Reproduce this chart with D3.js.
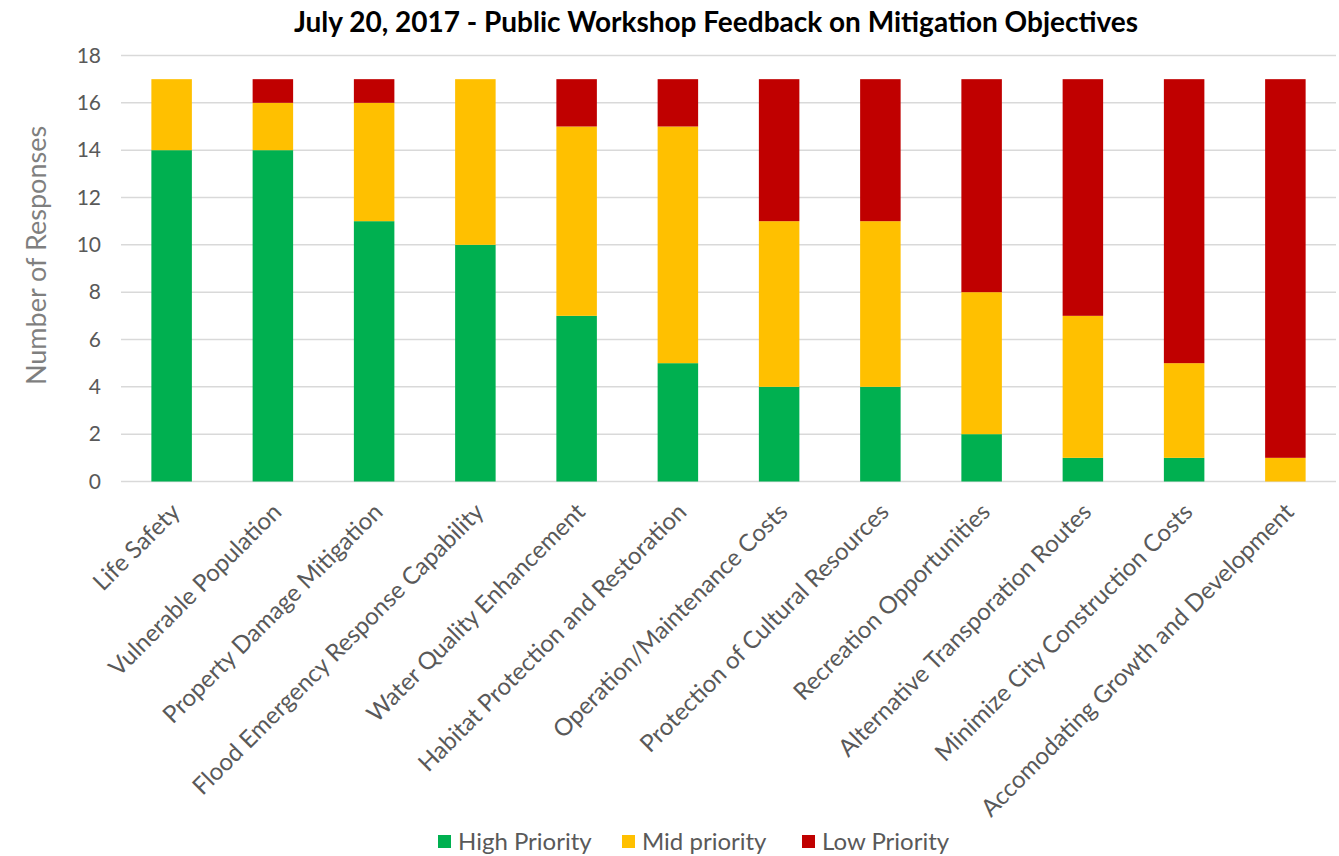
<!DOCTYPE html>
<html>
<head>
<meta charset="utf-8">
<script src="https://cdn.jsdelivr.net/npm/d3@7"></script>
<style>
  body { margin: 0; background: #fff; }
  text { font-family: Lato, "Open Sans", sans-serif; }
</style>
</head>
<body>
<div id="chart"></div>
<script>
var categories = [
  "Life Safety",
  "Vulnerable Population",
  "Property Damage Mitigation",
  "Flood Emergency Response Capability",
  "Water Quality Enhancement",
  "Habitat Protection and Restoration",
  "Operation/Maintenance Costs",
  "Protection of Cultural Resources",
  "Recreation Opportunities",
  "Alternative Transporation Routes",
  "Minimize City Construction Costs",
  "Accomodating Growth and Development"
];
var highPriority = [14, 14, 11, 10, 7, 5, 4, 4, 2, 1, 1, 0];
var midPriority = [3, 2, 5, 7, 8, 10, 7, 7, 6, 6, 4, 1];
var lowPriority = [0, 1, 1, 0, 2, 2, 6, 6, 9, 10, 12, 16];
var seriesNames = ["High Priority", "Mid priority", "Low Priority"];
var seriesColors = ["#00B050", "#FFC000", "#C00000"];
var yTicks = [0, 2, 4, 6, 8, 10, 12, 14, 16, 18];

var svgWidth = 1339;
var svgHeight = 856;
var margin = { top: 55.5, right: 3, bottom: 374.5, left: 121 };
var width = svgWidth - margin.left - margin.right;
var height = svgHeight - margin.top - margin.bottom;

var rows = categories.map(function (c, i) {
  return { cat: c, high: highPriority[i], mid: midPriority[i], low: lowPriority[i] };
});
var stack = d3.stack().keys(["high", "mid", "low"]);
var layers = stack(rows);

var svg = d3.select("#chart")
  .append("svg")
  .attr("width", svgWidth)
  .attr("height", svgHeight);

var g = svg.append("g")
  .attr("transform", "translate(" + margin.left + "," + margin.top + ")");

var x = d3.scaleBand().domain(categories).range([0, width]).paddingInner(0.6).paddingOuter(0.3);
var y = d3.scaleLinear().domain([0, 18]).range([height, 0]);

// gridlines
g.selectAll("line.grid").data(yTicks)
  .enter()
  .append("line")
  .attr("class", "grid")
  .attr("x1", 0)
  .attr("x2", width)
  .attr("y1", function (d) { return y(d); })
  .attr("y2", function (d) { return y(d); })
  .style("stroke", "#d9d9d9")
  .style("stroke-width", 1.5);

// y axis labels
var yAxis = d3.axisLeft(y).tickValues(yTicks).tickSize(0).tickPadding(20);
var yG = g.append("g").call(yAxis);
yG.select(".domain").remove();
yG.selectAll("text")
  .style("font-family", "Lato, 'Open Sans', sans-serif")
  .style("font-size", "21px")
  .style("fill", "#595959");

// bars
g.selectAll("g.layer").data(layers)
  .enter()
  .append("g")
  .attr("class", "layer")
  .style("fill", function (d, i) { return seriesColors[i]; })
  .selectAll("rect")
  .data(function (d) { return d; })
  .enter()
  .append("rect")
  .attr("x", function (d) { return x(d.data.cat); })
  .attr("width", x.bandwidth())
  .attr("y", function (d) { return y(d[1]); })
  .attr("height", function (d) { return y(d[0]) - y(d[1]); });

// x axis labels
var xAxis = d3.axisBottom(x).tickSize(0).tickPadding(0);
var xG = g.append("g")
  .attr("transform", "translate(0," + height + ")")
  .call(xAxis);
xG.select(".domain").remove();
xG.selectAll("text")
  .style("font-family", "Lato, 'Open Sans', sans-serif")
  .style("font-size", "24px")
  .style("fill", "#595959")
  .style("text-anchor", "end")
  .attr("dy", null)
  .attr("y", 0)
  .attr("transform", "translate(10,32) rotate(-45)");

// title
svg.append("text")
  .attr("x", 716)
  .attr("y", 32)
  .attr("text-anchor", "middle")
  .style("font-size", "28px")
  .style("font-weight", "bold")
  .style("fill", "#000")
  .text("July 20, 2017 - Public Workshop Feedback on Mitigation Objectives");

// y label
svg.append("text")
  .attr("transform", "translate(46," + (margin.top + height / 2 - 13) + ") rotate(-90)")
  .attr("text-anchor", "middle")
  .style("font-size", "27px")
  .style("fill", "#7f7f7f")
  .text("Number of Responses");

// legend
var legendX = [438, 622, 802];
var legend = svg.selectAll("g.legend").data(seriesNames)
  .enter()
  .append("g")
  .attr("class", "legend")
  .attr("transform", function (d, i) { return "translate(" + legendX[i] + ",842)"; });
legend.append("rect")
  .attr("x", 0)
  .attr("y", -7)
  .attr("width", 13)
  .attr("height", 13)
  .style("fill", function (d, i) { return seriesColors[i]; });
legend.append("text")
  .attr("x", 20)
  .attr("y", 8)
  .style("font-size", "24px")
  .style("fill", "#595959")
  .text(function (d) { return d; });
</script>
</body>
</html>
